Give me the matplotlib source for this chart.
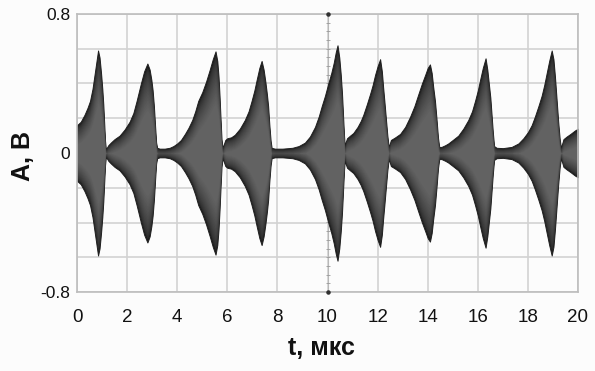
import numpy as np
import matplotlib
matplotlib.use("Agg")
import matplotlib.pyplot as plt
from matplotlib.ticker import MultipleLocator, FixedLocator

# Envelope of the oscillating signal (time in us, amplitude in V)
t_us = [
    0.00, 0.15, 0.30, 0.42, 0.52, 0.62, 0.72, 0.78, 0.84, 0.90, 0.96, 1.01, 1.05, 1.09, 1.12, 1.15,
    1.19, 1.25, 1.35, 1.50, 1.70, 1.90, 2.10, 2.25, 2.38, 2.55, 2.68, 2.81, 2.90, 2.97, 3.02, 3.07, 3.12, 3.16, 3.20,
    3.30, 3.50, 3.70, 3.85, 4.00, 4.15, 4.31, 4.45, 4.60, 4.72, 4.84, 5.00, 5.15, 5.30, 5.42, 5.53, 5.60, 5.65, 5.69, 5.73, 5.77, 5.81,
    5.86, 5.92, 6.00, 6.15, 6.30, 6.50, 6.70, 6.85, 6.97, 7.08, 7.17, 7.28, 7.37, 7.45, 7.52, 7.58, 7.63, 7.68, 7.73, 7.77,
    7.90, 8.20, 8.60, 8.85, 9.10, 9.30, 9.50, 9.65, 9.77, 9.90, 10.03, 10.15, 10.25, 10.33, 10.40, 10.47, 10.53, 10.58, 10.62, 10.66, 10.69,
    10.72, 10.78, 10.90, 11.03, 11.20, 11.33, 11.43, 11.57, 11.70, 11.80, 11.90, 12.00, 12.10, 12.17, 12.22, 12.27, 12.33, 12.39, 12.44,
    12.48, 12.53, 12.70, 12.90, 13.10, 13.30, 13.47, 13.63, 13.77, 13.90, 14.00, 14.09, 14.16, 14.22, 14.29, 14.35, 14.41, 14.46,
    14.55, 14.70, 14.82, 15.00, 15.22, 15.42, 15.62, 15.77, 15.89, 16.00, 16.09, 16.20, 16.31, 16.38, 16.44, 16.50, 16.55, 16.60, 16.65,
    16.75, 17.00, 17.35, 17.62, 17.82, 18.00, 18.15, 18.28, 18.42, 18.55, 18.65, 18.75, 18.85, 18.95, 19.02, 19.08, 19.15, 19.21, 19.27, 19.32,
    19.36, 19.42, 19.55, 19.70, 19.88, 20.00,
]
envelope_v = [
    0.16, 0.18, 0.22, 0.26, 0.30, 0.37, 0.47, 0.53, 0.59, 0.55, 0.46, 0.37, 0.28, 0.16, 0.07, 0.025,
    0.03, 0.045, 0.06, 0.08, 0.10, 0.135, 0.18, 0.23, 0.30, 0.40, 0.47, 0.515, 0.48, 0.42, 0.36, 0.27, 0.15, 0.06, 0.03,
    0.025, 0.025, 0.03, 0.04, 0.055, 0.075, 0.11, 0.145, 0.19, 0.24, 0.30, 0.35, 0.41, 0.48, 0.54, 0.585, 0.53, 0.44, 0.33, 0.20, 0.08, 0.03,
    0.05, 0.075, 0.085, 0.09, 0.105, 0.14, 0.19, 0.24, 0.30, 0.36, 0.42, 0.49, 0.53, 0.48, 0.41, 0.34, 0.27, 0.16, 0.07, 0.03,
    0.025, 0.025, 0.03, 0.04, 0.06, 0.095, 0.15, 0.21, 0.27, 0.33, 0.40, 0.46, 0.52, 0.58, 0.62, 0.55, 0.45, 0.34, 0.22, 0.10, 0.04,
    0.06, 0.085, 0.10, 0.115, 0.15, 0.185, 0.22, 0.28, 0.34, 0.39, 0.45, 0.50, 0.54, 0.47, 0.38, 0.30, 0.20, 0.10, 0.04,
    0.05, 0.075, 0.09, 0.11, 0.15, 0.21, 0.27, 0.34, 0.40, 0.45, 0.49, 0.51, 0.46, 0.38, 0.30, 0.20, 0.09, 0.035,
    0.035, 0.045, 0.055, 0.075, 0.10, 0.14, 0.19, 0.24, 0.30, 0.36, 0.42, 0.49, 0.545, 0.48, 0.40, 0.32, 0.22, 0.12, 0.04,
    0.03, 0.028, 0.035, 0.055, 0.085, 0.12, 0.16, 0.21, 0.27, 0.33, 0.39, 0.46, 0.53, 0.59, 0.54, 0.44, 0.30, 0.18, 0.08, 0.03,
    0.05, 0.08, 0.095, 0.11, 0.13, 0.14,
]

x_ticks = [0, 2, 4, 6, 8, 10, 12, 14, 16, 18, 20]
y_ticks = [-0.8, 0, 0.8]
y_tick_labels = ["-0.8", "0", "0.8"]

plt.rcParams['font.family'] = ['Liberation Sans Narrow', 'Liberation Sans', 'DejaVu Sans']

fig = plt.figure(figsize=(5.95, 3.71), dpi=100, facecolor='#fcfcfc')
ax = fig.add_axes([77/595, 1-292/371, (578-77)/595, (292-14)/371])
ax.set_facecolor('#fcfcfc')

t = np.array(t_us)
env = np.array(envelope_v)

# marker line at t = 10
ax.axvline(10, color='#b8b8b8', lw=0.8, zorder=1)
ax.scatter([10]*33, np.arange(-0.8, 0.81, 0.05), marker='_', s=5, color='#9a9a9a', lw=0.6, zorder=1)
ax.scatter([10, 10], [-0.8, 0.8], marker='o', s=5, color='#303030', zorder=4, clip_on=False)

# signal body: many layered fills giving a smooth dark-edge / lighter-core shading
ax.fill_between(t, -env, env, color='#181818', lw=0.7, edgecolor='#202020', zorder=2)
n_layers = 14
c0 = np.array([0x1c, 0x1c, 0x1c]) / 255
c1 = np.array([0x62, 0x62, 0x62]) / 255
for k in range(1, n_layers + 1):
    q = k / n_layers
    lay = np.clip(env * (1 - 0.45 * q) - 0.035 * q, 0, None)
    col = c0 + (c1 - c0) * (q ** 0.6)
    ax.fill_between(t, -lay, lay, color=col, lw=0, zorder=2 + 0.01 * k)

ax.set_xlim(0, 20)
ax.set_ylim(-0.8, 0.8)
ax.xaxis.set_major_locator(FixedLocator(x_ticks))
ax.yaxis.set_major_locator(FixedLocator(y_ticks))
ax.set_yticklabels(y_tick_labels)
ax.yaxis.set_minor_locator(MultipleLocator(0.2))
ax.grid(True, which='both', color='#d2d2d2', lw=1.2, zorder=0)
ax.set_axisbelow(True)
ax.tick_params(which='both', length=0)
ax.tick_params(axis='x', labelsize=13.5, pad=12, labelcolor='#111111')
ax.tick_params(axis='y', labelsize=12.5, pad=5, labelcolor='#111111')
for s in ax.spines.values():
    s.set_color('#bdbdbd')
    s.set_linewidth(1.2)

fig.text(321/595, 1-348/371, 't, мкс', fontsize=18, fontweight='bold',
         ha='center', va='center', family=['Liberation Sans', 'DejaVu Sans'], color='#111111')
fig.text(23/595, 1-156/371, 'A, B', fontsize=18, fontweight='bold', rotation=90,
         ha='center', va='center', family=['Liberation Sans', 'DejaVu Sans'], color='#111111')

fig.savefig('out.png', dpi=100, facecolor=fig.get_facecolor())
